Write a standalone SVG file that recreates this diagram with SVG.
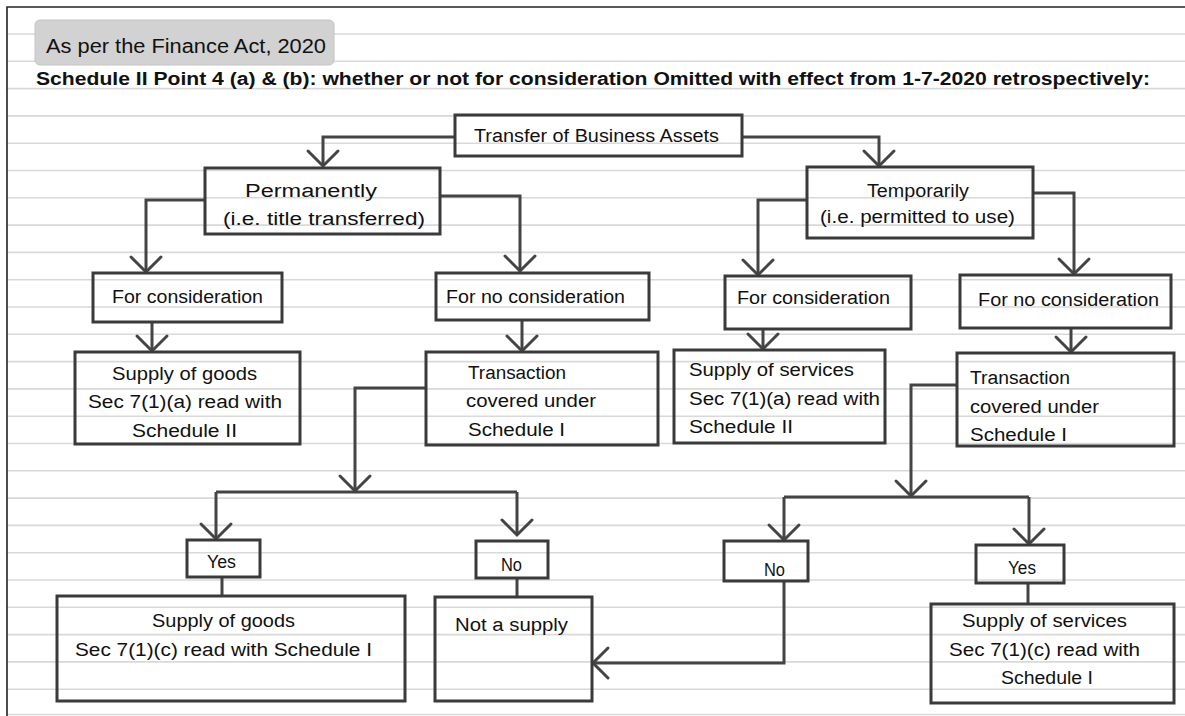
<svg xmlns="http://www.w3.org/2000/svg" width="1185" height="716" viewBox="0 0 1185 716">
<defs>
<style>
.rule{stroke:#d9d9d9;stroke-width:1.6;fill:none}
.box{fill:none;stroke:#3a3a3a;stroke-width:3}
.t{font-family:"Liberation Sans",Arial,sans-serif;font-size:18px;fill:#111}
.c{fill:none;stroke:#444;stroke-width:3;stroke-linejoin:miter}
.a{marker-end:url(#chev)}
</style>
<marker id="chev" markerUnits="userSpaceOnUse" markerWidth="40" markerHeight="40" refX="0" refY="0" viewBox="-20 -20 40 40" orient="auto" overflow="visible">
<path d="M-15 -15 L0 0 L-15 15" fill="none" stroke="#444" stroke-width="3" stroke-linecap="round" stroke-linejoin="miter"/>
</marker>
</defs>
<rect width="1185" height="716" fill="#ffffff"/>
<g id="paper">
<path class="rule" d="M7 34H1185M7 61.3H1185M7 88.6H1185M7 115.9H1185M7 143.2H1185M7 170.5H1185M7 197.8H1185M7 225.1H1185M7 252.4H1185M7 279.7H1185M7 307H1185M7 334.3H1185M7 361.6H1185M7 388.9H1185M7 416.2H1185M7 443.5H1185M7 470.8H1185M7 498.1H1185M7 525.4H1185M7 552.7H1185M7 580H1185M7 607.3H1185M7 634.6H1185M7 661.9H1185M7 689.2H1185M7 714.5H1185"/>
<path d="M7 716V7H1185" fill="none" stroke="#222" stroke-width="1.6"/>
</g>
<g id="header">
<rect x="35" y="20" width="299" height="45" rx="5" fill="#d2d2d2" stroke="#c4c4c4" stroke-width="1"/>
<text class="t" x="46" y="53" style="font-size:19.5px" textLength="280" lengthAdjust="spacingAndGlyphs">As per the Finance Act, 2020</text>
<text class="t" x="36" y="85" style="font-weight:bold;font-size:18px" textLength="1114" lengthAdjust="spacingAndGlyphs">Schedule II Point 4 (a) &amp; (b): whether or not for consideration Omitted with effect from 1-7-2020 retrospectively:</text>
</g>
<g id="connectors">
<path class="c a" d="M455 137H323V166"/>
<path class="c a" d="M742 137H879V166"/>
<path class="c a" d="M205 200H146V272"/>
<path class="c a" d="M440 196H520V271"/>
<path class="c a" d="M807 200H758V275"/>
<path class="c a" d="M1033 193H1074V274"/>
<path class="c a" d="M152 322V351"/>
<path class="c a" d="M522 320V351"/>
<path class="c a" d="M763 329V349"/>
<path class="c a" d="M1071 328V352"/>
<path class="c a" d="M426 388H355V491"/>
<path class="c" d="M216 492H517"/>
<path class="c a" d="M216 492V539"/>
<path class="c a" d="M517 492V535"/>
<path class="c a" d="M957 385H911V496"/>
<path class="c" d="M784 497H1029"/>
<path class="c a" d="M784 497V540"/>
<path class="c a" d="M1029 497V544"/>
<path class="c" d="M222 577V596"/>
<path class="c" d="M517 578V597"/>
<path class="c" d="M1028 583V604"/>
<path class="c a" d="M784 581V663H593"/>
</g>
<g id="n-transfer">
<rect class="box" x="455" y="115" width="287" height="41"/>
<text class="t" x="474" y="142" textLength="245" lengthAdjust="spacingAndGlyphs">Transfer of Business Assets</text>
</g>
<g id="n-permanently">
<rect class="box" x="205" y="168" width="235" height="66"/>
<text class="t" x="245" y="197" textLength="132" lengthAdjust="spacingAndGlyphs">Permanently</text>
<text class="t" x="223" y="225" textLength="202" lengthAdjust="spacingAndGlyphs">(i.e. title transferred)</text>
</g>
<g id="n-temporarily">
<rect class="box" x="807" y="167" width="226" height="71"/>
<text class="t" x="867" y="197" textLength="102" lengthAdjust="spacingAndGlyphs">Temporarily</text>
<text class="t" x="820" y="223" textLength="195" lengthAdjust="spacingAndGlyphs">(i.e. permitted to use)</text>
</g>
<g id="n-forcons-l">
<rect class="box" x="93" y="273" width="189" height="49"/>
<text class="t" x="112" y="303" textLength="151" lengthAdjust="spacingAndGlyphs">For consideration</text>
</g>
<g id="n-fornocons-l">
<rect class="box" x="436" y="273" width="213" height="47"/>
<text class="t" x="446" y="303" textLength="179" lengthAdjust="spacingAndGlyphs">For no consideration</text>
</g>
<g id="n-forcons-r">
<rect class="box" x="725" y="276" width="186" height="53"/>
<text class="t" x="737" y="304" textLength="153" lengthAdjust="spacingAndGlyphs">For consideration</text>
</g>
<g id="n-fornocons-r">
<rect class="box" x="960" y="275" width="211" height="53"/>
<text class="t" x="978" y="306" textLength="181" lengthAdjust="spacingAndGlyphs">For no consideration</text>
</g>
<g id="n-goods-2">
<rect class="box" x="75" y="352" width="225" height="92"/>
<text class="t" x="112" y="380" textLength="145" lengthAdjust="spacingAndGlyphs">Supply of goods</text>
<text class="t" x="88" y="408" textLength="194" lengthAdjust="spacingAndGlyphs">Sec 7(1)(a) read with</text>
<text class="t" x="132" y="437" textLength="105" lengthAdjust="spacingAndGlyphs">Schedule II</text>
</g>
<g id="n-trans-l">
<rect class="box" x="426" y="352" width="232" height="93"/>
<text class="t" x="468" y="379" textLength="98" lengthAdjust="spacingAndGlyphs">Transaction</text>
<text class="t" x="466" y="407" textLength="130" lengthAdjust="spacingAndGlyphs">covered under</text>
<text class="t" x="468" y="436" textLength="97" lengthAdjust="spacingAndGlyphs">Schedule I</text>
</g>
<g id="n-services-2">
<rect class="box" x="674" y="350" width="211" height="93"/>
<text class="t" x="689" y="376" textLength="165" lengthAdjust="spacingAndGlyphs">Supply of services</text>
<text class="t" x="689" y="405" textLength="191" lengthAdjust="spacingAndGlyphs">Sec 7(1)(a) read with</text>
<text class="t" x="689" y="433" textLength="104" lengthAdjust="spacingAndGlyphs">Schedule II</text>
</g>
<g id="n-trans-r">
<rect class="box" x="957" y="353" width="217" height="93"/>
<text class="t" x="970" y="384" textLength="100" lengthAdjust="spacingAndGlyphs">Transaction</text>
<text class="t" x="970" y="413" textLength="129" lengthAdjust="spacingAndGlyphs">covered under</text>
<text class="t" x="970" y="441" textLength="97" lengthAdjust="spacingAndGlyphs">Schedule I</text>
</g>
<g id="n-yes-l">
<rect class="box" x="187" y="540" width="73" height="37"/>
<text class="t" x="207" y="568" textLength="29" lengthAdjust="spacingAndGlyphs">Yes</text>
</g>
<g id="n-no-l">
<rect class="box" x="476" y="541" width="72" height="37"/>
<text class="t" x="501" y="571" textLength="21" lengthAdjust="spacingAndGlyphs">No</text>
</g>
<g id="n-no-r">
<rect class="box" x="724" y="541" width="84" height="40"/>
<text class="t" x="764" y="576" textLength="21" lengthAdjust="spacingAndGlyphs">No</text>
</g>
<g id="n-yes-r">
<rect class="box" x="976" y="545" width="88" height="38"/>
<text class="t" x="1008" y="574" textLength="28" lengthAdjust="spacingAndGlyphs">Yes</text>
</g>
<g id="n-goods-1">
<rect class="box" x="57" y="596" width="348" height="105"/>
<text class="t" x="152" y="627" textLength="143" lengthAdjust="spacingAndGlyphs">Supply of goods</text>
<text class="t" x="75" y="656" textLength="297" lengthAdjust="spacingAndGlyphs">Sec 7(1)(c) read with Schedule I</text>
</g>
<g id="n-notsupply">
<rect class="box" x="435" y="597" width="157" height="104"/>
<text class="t" x="455" y="631" textLength="113" lengthAdjust="spacingAndGlyphs">Not a supply</text>
</g>
<g id="n-services-1">
<rect class="box" x="931" y="604" width="243" height="99"/>
<text class="t" x="962" y="627" textLength="165" lengthAdjust="spacingAndGlyphs">Supply of services</text>
<text class="t" x="949" y="656" textLength="191" lengthAdjust="spacingAndGlyphs">Sec 7(1)(c) read with</text>
<text class="t" x="1001" y="684" textLength="92" lengthAdjust="spacingAndGlyphs">Schedule I</text>
</g>
</svg>
